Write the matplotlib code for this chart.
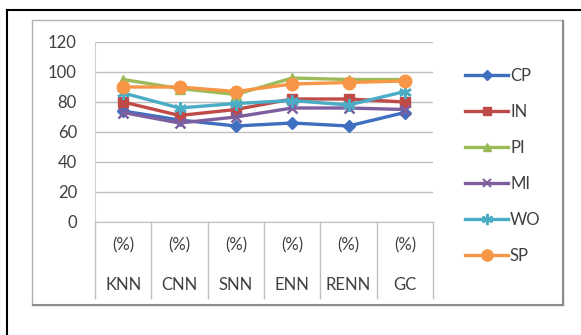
import numpy as np
import matplotlib.pyplot as plt
from matplotlib.lines import Line2D
from matplotlib.patches import Rectangle

plt.rcParams['font.family'] = ['Lato', 'DejaVu Sans']

# Accuracy per method for each data set
methods = ['KNN', 'CNN', 'SNN', 'ENN', 'RENN', 'GC']
units = ['(%)'] * len(methods)
cp = [74, 68, 64, 66, 64, 73]
inn = [80, 71, 75, 82, 82, 80]
pi = [95, 89, 85, 96, 95, 95]
mi = [73, 66, 70, 76, 76, 75]
wo = [86, 76, 79, 81, 78, 87]
sp = [90, 90, 87, 92, 93, 94]

series = [
    ('CP', cp, '#3F6FBF', 'D', 6),
    ('IN', inn, '#BE4B48', 's', 7),
    ('PI', pi, '#9BBB59', '^', 7),
    ('MI', mi, '#7D5FA0', 'x', 7),
    ('WO', wo, '#4BACC6', (6, 2, 0), 9),
    ('SP', sp, '#F79646', 'o', 9),
]

W, H = 581, 335
fig = plt.figure(figsize=(W / 100, H / 100), dpi=100)

# plot area in pixels: left, top, right, bottom
L, T, R, B = 95, 42, 433, 222
ax = fig.add_axes([L / W, 1 - B / H, (R - L) / W, (B - T) / H])

x = np.arange(len(methods))
for name, vals, col, mk, ms in series:
    thin = mk == 'x' or isinstance(mk, tuple)
    ax.plot(x, vals, color=col, lw=2.4, marker=mk, ms=ms, mew=1.8 if thin else 1,
            mec=col, mfc=col, label=name, zorder=3)

ax.set_xlim(-0.5, len(methods) - 0.5)
ax.set_ylim(0, 120)
ax.set_yticks(range(0, 121, 20))
ax.set_xticks([])
ax.yaxis.grid(True, color='#BFBFBF', lw=1)
ax.set_axisbelow(True)
ax.tick_params(axis='y', length=0, pad=13, labelsize=12, labelcolor='#404040')
for s in ('top', 'right'):
    ax.spines[s].set_visible(False)
ax.spines['left'].set_color('#D0D0D0')
ax.spines['bottom'].set_color('#BFBFBF')

# category table under the axis
depth = (298 - B) / (B - T)
for b in np.arange(-0.5, len(methods), 1.0):
    ax.plot([b, b], [0, -depth * 120], color='#BFBFBF', lw=1, clip_on=False)
for i, (m, u) in enumerate(zip(methods, units)):
    ax.text(i, -(245 - B) / (B - T) * 120, u, ha='center', va='center',
            fontsize=12, color='#404040', clip_on=False)
    ax.text(i, -(285 - B) / (B - T) * 120, m, ha='center', va='center',
            fontsize=12, color='#404040', clip_on=False)

handles = [Line2D([], [], color=c, lw=2.4, marker=mk, ms=ms * 0.9, mec=c, mfc=c,
                  mew=1.5 if (mk == 'x' or isinstance(mk, tuple)) else 1)
           for _, _, c, mk, ms in series]
fig.legend(handles, [s[0] for s in series], loc='upper left',
           bbox_to_anchor=(465 / W, 1 - 68 / H), frameon=False,
           borderpad=0, borderaxespad=0,
           fontsize=12, handlelength=2.6, handletextpad=0.1,
           labelspacing=1.2, labelcolor='#404040')

# chart frame and page edges
fig.add_artist(Rectangle((32 / W, 1 - 305 / H), (563 - 32) / W, (305 - 20) / H,
                         transform=fig.transFigure, fill=False, ec='#B0B0B0', lw=1))
fig.add_artist(Line2D([563 / W, 563 / W], [1 - 305 / H, 1 - 21 / H],
                      transform=fig.transFigure, color='#8C8C8C', lw=1.5))
fig.add_artist(Line2D([33 / W, 563 / W], [1 - 305 / H, 1 - 305 / H],
                      transform=fig.transFigure, color='#8C8C8C', lw=1.5))
fig.add_artist(Line2D([7 / W, 7 / W], [0, 1 - 10 / H],
                      transform=fig.transFigure, color='black', lw=1.5))
fig.add_artist(Line2D([7 / W, 1], [1 - 10 / H, 1 - 10 / H],
                      transform=fig.transFigure, color='black', lw=1.5))

fig.savefig('out.png', dpi=100)
